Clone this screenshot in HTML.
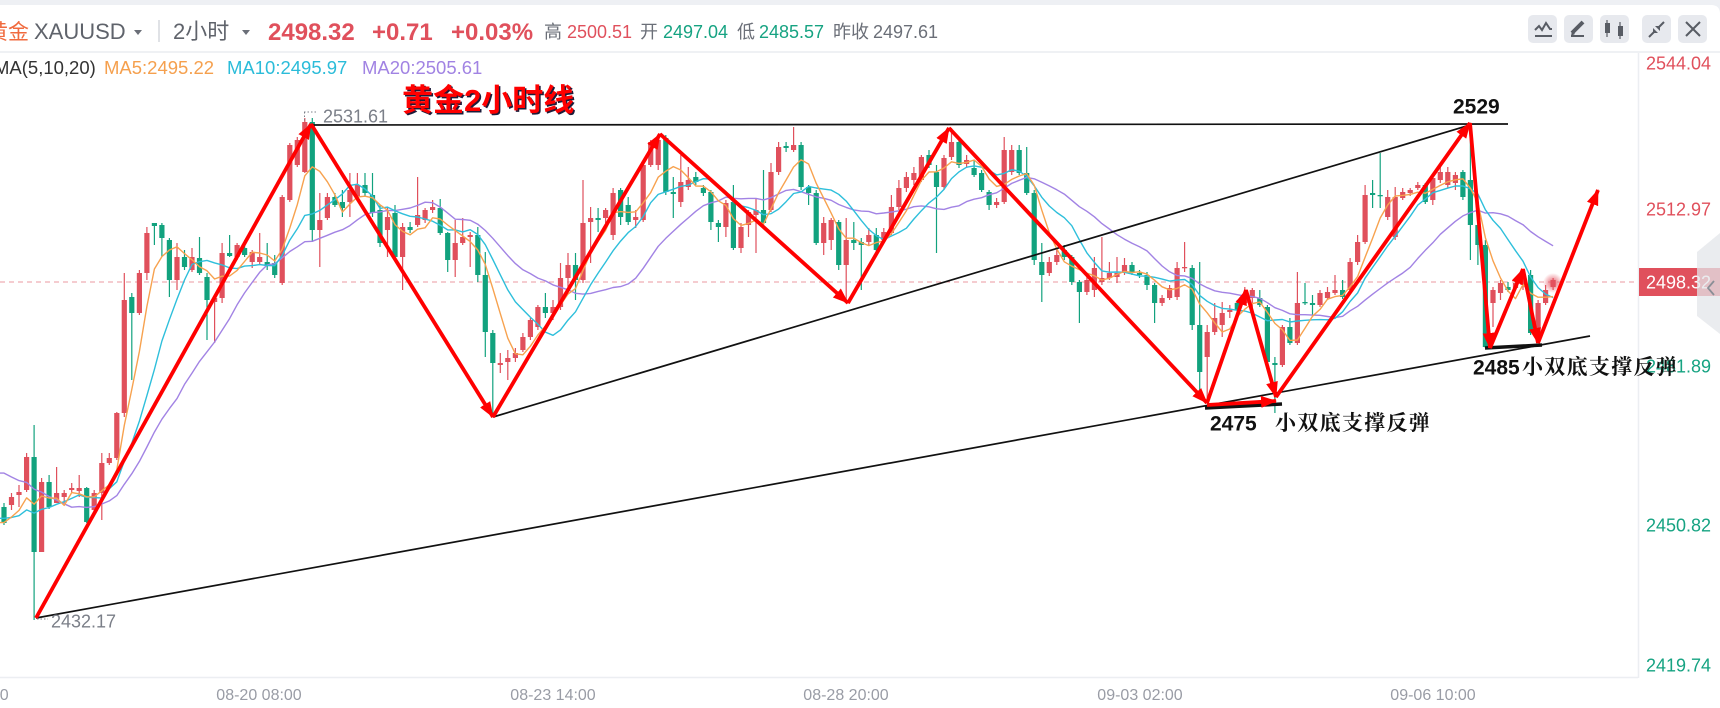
<!DOCTYPE html>
<html><head><meta charset="utf-8"><title>黄金2小时线</title>
<style>
html,body{margin:0;padding:0;background:#fff;}
body{width:1720px;height:708px;overflow:hidden;}
svg{display:block;}
text{font-family:"Liberation Sans","Noto Sans CJK SC",sans-serif;}
.cn{font-family:"Liberation Serif","Noto Serif CJK SC",serif;font-weight:bold;}
</style></head><body>
<svg id="c" width="1720" height="708" viewBox="0 0 1720 708" xmlns="http://www.w3.org/2000/svg">
<defs>
<marker id="ah" viewBox="0 0 16 12" refX="15" refY="6" markerWidth="16" markerHeight="12" orient="auto" markerUnits="userSpaceOnUse"><path d="M0 0 L16 6 L0 12 Z" fill="#ff0000"/></marker>
<radialGradient id="glow"><stop offset="0" stop-color="#e4505e" stop-opacity="0.9"/><stop offset="0.5" stop-color="#e4505e" stop-opacity="0.45"/><stop offset="1" stop-color="#e4505e" stop-opacity="0"/></radialGradient>
</defs>
<rect width="1720" height="708" fill="#eef0f4"/>
<path d="M0 5 H1711 Q1720 5 1720 14 V708 H0 Z" fill="#fff"/>
<rect x="0" y="51" width="1720" height="2" fill="#eff1f4"/>
<line x1="1638.5" y1="53" x2="1638.5" y2="678" stroke="#eceef2" stroke-width="1.5"/>
<line x1="0" y1="677.5" x2="1638" y2="677.5" stroke="#eceef2" stroke-width="1.5"/>

<!-- header -->
<text x="-13" y="39" font-size="21" fill="#f06a3e">黄金</text>
<text x="34" y="39" font-size="22" fill="#5f636b">XAUUSD</text>
<polygon points="134,30 142,30 138,35" fill="#6b6f78"/>
<line x1="159" y1="20" x2="159" y2="42" stroke="#d6d9de" stroke-width="1.5"/>
<text x="173" y="39" font-size="22" fill="#5f636b">2小时</text>
<polygon points="242,30 250,30 246,35" fill="#6b6f78"/>
<text x="268" y="40" font-size="24" font-weight="bold" fill="#e0505c">2498.32</text>
<text x="372" y="40" font-size="24" font-weight="bold" fill="#e0505c">+0.71</text>
<text x="451" y="40" font-size="24" font-weight="bold" fill="#e0505c">+0.03%</text>
<text x="544" y="38" font-size="18" fill="#6b6f78">高</text>
<text x="567" y="38" font-size="18" fill="#e0505c">2500.51</text>
<text x="640" y="38" font-size="18" fill="#6b6f78">开</text>
<text x="663" y="38" font-size="18" fill="#16a382">2497.04</text>
<text x="737" y="38" font-size="18" fill="#6b6f78">低</text>
<text x="759" y="38" font-size="18" fill="#16a382">2485.57</text>
<text x="833" y="38" font-size="18" fill="#6b6f78">昨收</text>
<text x="873" y="38" font-size="18" fill="#6b6f78">2497.61</text>

<!-- header buttons -->
<g fill="#e7e9ee">
<rect x="1528" y="15" width="29" height="28" rx="5"/>
<rect x="1564" y="15" width="29" height="28" rx="5"/>
<rect x="1600" y="15" width="29" height="28" rx="5"/>
<rect x="1642" y="15" width="29" height="28" rx="5"/>
<rect x="1678" y="15" width="29" height="28" rx="5"/>
</g>
<g stroke="#585c64" fill="none" stroke-width="2">
<polyline points="1535,30 1539,26 1542,30 1546,23 1550,29 1552,29"/>
<line x1="1535" y1="36" x2="1552" y2="36"/>
<line x1="1571" y1="36" x2="1584" y2="36"/>
<line x1="1572" y1="33" x2="1583" y2="22" stroke-width="4"/>
<line x1="1607" y1="20" x2="1607" y2="37" stroke-width="1.2"/>
<line x1="1620" y1="22" x2="1620" y2="39" stroke-width="1.2"/>
<line x1="1649" y1="37" x2="1655" y2="31"/>
<line x1="1664" y1="22" x2="1658" y2="28"/>
<line x1="1686" y1="22" x2="1700" y2="36"/>
<line x1="1700" y1="22" x2="1686" y2="36"/>
</g>
<g fill="#585c64">
<rect x="1605" y="23" width="5" height="10"/>
<rect x="1618" y="26" width="5" height="10"/>
<polygon points="1653,28 1658,33 1653,33"/>
<polygon points="1660,31 1660,26 1655,26"/>
<polygon points="1571,36 1572,31 1575,34"/>
</g>

<!-- MA legend -->
<text x="-6" y="74" font-size="18.5" fill="#333">MA(5,10,20)</text>
<text x="104" y="74" font-size="18.5" fill="#f5a04e">MA5:2495.22</text>
<text x="227" y="74" font-size="18.5" fill="#2bbcd9">MA10:2495.97</text>
<text x="362" y="74" font-size="18.5" fill="#a183e3">MA20:2505.61</text>

<!-- current price dashed line -->
<line x1="0" y1="282" x2="1638" y2="282" stroke="#eb9aa0" stroke-width="1" stroke-dasharray="5,4"/>

<g id="cd"></g>
<g id="ma"></g>

<circle cx="1553" cy="283" r="10" fill="url(#glow)"/>

<!-- black trend lines -->
<g stroke="#111" stroke-width="1.7" fill="none">
<line x1="311" y1="125" x2="1508" y2="124"/>
<line x1="493" y1="417" x2="1470" y2="125"/>
<line x1="36" y1="618" x2="1590" y2="336"/>
<line x1="1205" y1="408" x2="1282" y2="404" stroke-width="3.5"/>
<line x1="1485" y1="348" x2="1542" y2="345" stroke-width="3.5"/>
</g>

<!-- red zigzag -->
<g stroke="#ff0000" stroke-width="3.8" fill="none" marker-end="url(#ah)">
<line x1="36" y1="618" x2="311" y2="124"/>
<line x1="311" y1="124" x2="493" y2="417"/>
<line x1="493" y1="417" x2="660" y2="134"/>
<line x1="660" y1="134" x2="848" y2="303"/>
<line x1="848" y1="303" x2="949" y2="128"/>
<line x1="949" y1="128" x2="1207" y2="403"/>
<line x1="1207" y1="403" x2="1246" y2="290"/>
<line x1="1246" y1="290" x2="1276" y2="397"/>
<line x1="1207" y1="405" x2="1276" y2="401"/>
<line x1="1276" y1="397" x2="1470" y2="123"/>
<line x1="1470" y1="123" x2="1490" y2="348"/>
<line x1="1490" y1="348" x2="1523" y2="269"/>
<line x1="1523" y1="269" x2="1538" y2="343"/>
<line x1="1538" y1="343" x2="1598" y2="190"/>
</g>

<!-- high / low markers -->
<g stroke="#7b7f88" stroke-width="1" stroke-dasharray="1.5,2" fill="none">
<line x1="304" y1="112" x2="318" y2="112"/>
<line x1="304.5" y1="112" x2="304.5" y2="121"/>
<line x1="37" y1="619" x2="48" y2="619"/>
</g>
<text x="323" y="122.5" font-size="18" fill="#7b7f88">2531.61</text>
<text x="51" y="627.5" font-size="18" fill="#7b7f88">2432.17</text>

<!-- title -->
<text x="403.5" y="112.5" font-size="31" font-weight="bold" fill="#1c1c3a" font-family="Liberation Sans, Noto Sans CJK SC, sans-serif">黄金2小时线</text>
<text x="402" y="111" font-size="31" font-weight="bold" fill="#ff0000" font-family="Liberation Sans, Noto Sans CJK SC, sans-serif">黄金2小时线</text>

<!-- right axis -->
<text x="1646" y="69.5" font-size="18" fill="#e0505c">2544.04</text>
<text x="1646" y="215.5" font-size="18" fill="#e0505c">2512.97</text>
<text x="1646" y="372.5" font-size="18" fill="#16a382">2481.89</text>
<text x="1646" y="531.5" font-size="18" fill="#16a382">2450.82</text>
<text x="1646" y="671.5" font-size="18" fill="#16a382">2419.74</text>
<rect x="1639" y="268" width="81" height="28" fill="#e0505c"/>
<text x="1646" y="288.5" font-size="18" fill="#fff">2498.32</text>
<polygon points="1720,233 1697,252 1697,316 1720,334" fill="#e3e5ea" opacity="0.75"/>
<polyline points="1714,281 1708,288 1714,295" fill="none" stroke="#8a8e96" stroke-width="1.8"/>

<!-- annotations -->
<text x="1453" y="113.5" font-size="21" font-weight="bold" fill="#111">2529</text>
<text x="1210" y="430.5" font-size="21" font-weight="bold" fill="#111">2475</text>
<text x="1275" y="430" font-size="21" class="cn" fill="#111" letter-spacing="1.3">小双底支撑反弹</text>
<text x="1473" y="374.5" font-size="21" font-weight="bold" fill="#111">2485</text>
<text x="1522" y="374" font-size="21" class="cn" fill="#111" letter-spacing="1.3">小双底支撑反弹</text>

<!-- x axis -->
<g font-size="16" fill="#999ca5" text-anchor="middle">
<text x="-34" y="700">08-16 20:00</text>
<text x="259" y="700">08-20 08:00</text>
<text x="553" y="700">08-23 14:00</text>
<text x="846" y="700">08-28 20:00</text>
<text x="1140" y="700">09-03 02:00</text>
<text x="1433" y="700">09-06 10:00</text>
</g>
</svg>
<script>
const D=[[507,523,503,525,0],[497,505,493,510,1],[492,495,485,507,1],[457,490,453,492,1],[457,552,425,620,0],[482,552,478,552,1],[482,507,475,509,0],[493,503,467,503,1],[493,497,490,503,1],[488,490,483,493,1],
[488,491,475,497,1],[488,522,487,523,0],[493,510,490,513,1],[463,493,453,520,1],[458,463,453,465,1],[413,458,412,460,1],[300,413,273,417,1],[297,313,293,380,0],[273,313,270,315,1],[233,273,227,280,1],
[223,226,223,245,0],[225,238,223,257,0],[240,280,238,297,0],[257,280,243,290,1],[257,267,250,270,0],[257,270,248,272,1],[258,273,237,275,0],[277,300,273,340,0],[298,302,297,343,1],[253,298,243,303,1],
[253,256,235,257,0],[245,257,243,260,1],[248,255,240,257,0],[252,262,250,268,1],[257,262,233,265,1],[262,266,243,270,0],[263,275,255,278,0],[197,283,195,285,1],[145,200,143,202,1],[140,165,137,167,1],
[122,172,118,173,1],[122,230,118,242,0],[220,230,193,267,1],[197,218,193,220,1],[197,205,193,207,0],[202,208,190,217,0],[190,202,173,217,1],[185,197,173,200,1],[185,193,173,197,0],[195,213,173,217,0],
[210,243,205,247,0],[217,230,207,257,1],[213,257,205,260,0],[227,257,223,290,1],[227,230,222,233,0],[215,225,177,227,1],[210,220,208,223,1],[207,210,200,213,1],[208,233,199,235,0],[233,260,232,272,0],
[243,260,220,277,1],[237,243,218,245,1],[235,237,232,267,1],[235,275,227,282,0],[275,332,252,357,0],[333,363,330,417,0],[363,365,353,373,1],[358,362,350,380,1],[353,358,348,362,1],[337,350,333,352,1],
[320,337,318,340,1],[307,327,305,330,1],[307,313,293,318,0],[307,313,300,320,1],[278,307,263,310,1],[265,278,253,287,1],[265,280,253,300,0],[223,280,180,283,1],[218,222,207,263,1],[218,220,208,232,0],
[210,218,208,223,1],[193,235,188,240,1],[190,217,188,225,0],[205,222,197,225,0],[217,220,210,228,1],[165,220,162,222,1],[142,165,140,167,1],[140,165,134,170,1],[138,192,135,195,0],[192,194,177,218,0],
[182,202,155,207,1],[180,187,167,190,1],[177,182,172,185,0],[188,193,185,196,0],[192,222,190,230,0],[223,227,220,242,0],[203,227,200,237,1],[202,248,185,250,0],[227,248,223,253,1],[212,225,210,237,1],
[210,215,198,253,1],[210,223,170,228,0],[172,210,163,212,1],[147,172,142,175,1],[146,148,142,152,0],[145,150,127,152,1],[145,187,142,190,0],[187,193,185,205,0],[193,243,190,245,0],[223,243,217,255,1],
[220,240,218,250,1],[222,265,220,270,0],[240,265,218,303,1],[240,243,222,250,0],[242,245,238,290,0],[235,242,228,245,1],[235,250,228,252,0],[232,240,228,243,1],[207,233,195,235,1],[188,207,180,210,1],
[177,188,172,192,1],[173,180,167,185,1],[157,180,155,182,1],[155,165,150,168,0],[172,187,165,253,0],[158,187,155,190,1],[142,157,128,160,1],[142,165,140,168,0],[160,164,155,168,1],[168,175,160,177,0],
[173,190,170,192,0],[192,205,190,210,0],[202,205,198,208,1],[150,202,137,204,1],[150,172,145,175,1],[150,173,145,175,0],[173,193,147,195,0],[193,260,190,265,0],[262,275,243,302,0],[262,273,257,276,1],
[255,262,250,265,1],[250,257,245,260,0],[257,282,255,285,0],[282,292,280,323,0],[280,292,275,295,1],[268,290,257,297,1],[278,282,237,285,1],[273,278,262,280,1],[273,277,257,283,1],[265,273,258,275,1],
[265,273,262,275,0],[273,275,270,278,0],[275,285,272,290,0],[285,303,283,323,0],[298,303,295,306,1],[288,298,285,300,1],[268,297,262,300,1],[267,268,242,272,1],[268,325,265,330,0],[325,372,262,393,0],
[332,357,325,403,1],[318,332,303,335,1],[313,325,302,337,1],[310,312,305,318,1],[303,310,300,312,0],[295,303,287,305,1],[290,298,288,310,1],[298,305,290,307,0],[307,362,305,365,0],[363,365,357,413,0],
[327,365,325,367,1],[327,343,318,345,0],[303,343,272,345,1],[302,303,283,305,0],[303,305,295,317,0],[293,305,290,307,1],[292,298,287,300,1],[290,293,275,295,1],[290,297,280,299,0],[262,290,258,292,1],
[242,262,235,265,1],[195,242,185,244,1],[193,195,180,208,0],[195,196,153,208,0],[197,217,190,220,1],[197,237,187,240,1],[192,198,188,200,1],[190,193,188,196,1],[185,188,182,190,1],[185,202,183,204,0],
[178,200,175,205,1],[172,180,165,183,1],[172,185,167,188,1],[175,183,172,190,1],[172,197,170,200,0],[180,225,123,260,0],[225,245,215,265,0],[245,347,240,348,0],[290,303,287,327,1],[283,293,280,300,1],
[287,290,282,292,0],[283,288,278,290,1],[277,285,270,290,1],[275,333,270,335,0],[303,338,300,340,1],[290,303,285,305,1],[280,287,278,290,1]];
const S=7.52,X0=4,R='#e0505c',G='#12a27e';
let h='';
D.forEach((d,i)=>{const x=X0+S*i;const c=d[4]?R:G;
h+='<line x1="'+x.toFixed(1)+'" y1="'+d[2]+'" x2="'+x.toFixed(1)+'" y2="'+d[3]+'" stroke="'+c+'" stroke-width="1.2"/>';
h+='<rect x="'+(x-2.6).toFixed(1)+'" y="'+d[0]+'" width="5.2" height="'+Math.max(1.3,d[1]-d[0])+'" fill="'+c+'"/>';});
document.getElementById('cd').innerHTML=h;
const C=D.map(d=>d[4]?d[0]:d[1]);
const H=[420,420,420,420,420,420,420,420,420,420,500,505,510,515,520,520,525,525,520,520];
const A=H.concat(C);
function ma(n,col){const p=[];for(let i=0;i<C.length;i++){let s=0;for(let k=0;k<n;k++)s+=A[H.length+i-k];p.push((X0+S*i).toFixed(1)+','+(s/n).toFixed(1));}
p.unshift('0,'+p[0].split(',')[1]);
return '<polyline points="'+p.join(' ')+'" fill="none" stroke="'+col+'" stroke-width="1.4" stroke-linejoin="round"/>';}
document.getElementById('ma').innerHTML=ma(20,'#a283e4')+ma(10,'#2ebfdb')+ma(5,'#f7a24f');
</script>
</body></html>
